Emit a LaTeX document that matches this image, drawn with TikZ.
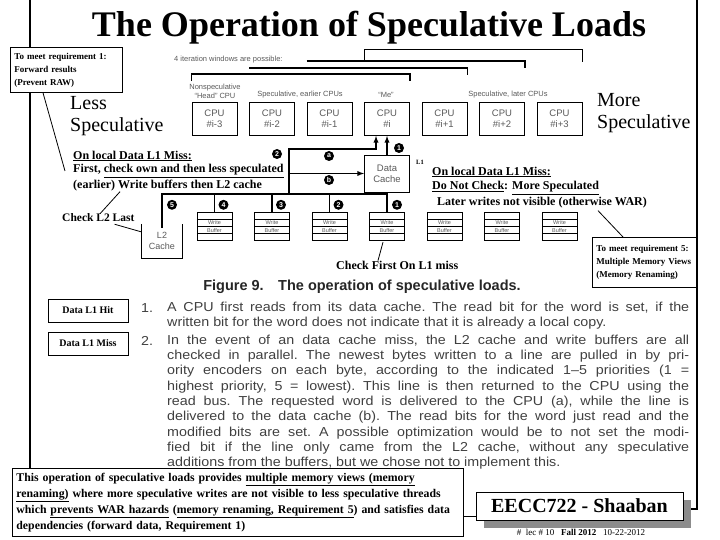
\documentclass[tikz,border=0pt]{standalone}
\usepackage{fontspec}
\setmainfont{Liberation Serif}
\setsansfont{Liberation Sans}
\newfontfamily\listfont{Liberation Sans}[FakeStretch=1.1,Ligatures=TeX]
\usetikzlibrary{positioning,calc}

\begin{document}
\begin{tikzpicture}[x=1pt,y=-1pt,
    every node/.style={inner sep=0pt},
    figtxt/.style={text=black!65,font=\sffamily\fontsize{7.5}{9}\selectfont,align=center},
    cpubox/.style={draw,thick,minimum width=45pt,minimum height=33pt,text=black!65,
      font=\sffamily\fontsize{9.5}{11}\selectfont,align=center},
    wbuf/.style={draw,minimum width=35pt,minimum height=28pt},
    numdot/.style={circle,fill=black,text=white,minimum size=10pt,
      font=\sffamily\bfseries\fontsize{7}{7}\selectfont},
    bus/.style={line width=1.3pt},
    brk/.style={line width=1.6pt},
    frame/.style={line width=1.6pt},
    note/.style={font=\bfseries\fontsize{12}{15}\selectfont,anchor=west},
    callout/.style={draw,thick,fill=white,font=\bfseries\fontsize{9}{13}\selectfont,
      align=left,inner sep=4pt,anchor=north west},
    listtxt/.style={text=black!75,font=\listfont\fontsize{13}{15}\selectfont\frenchspacing,anchor=west},
    tagbox/.style={draw,thick,minimum width=80pt,minimum height=23pt,
      font=\bfseries\fontsize{10}{12}\selectfont}
  ]
  \useasboundingbox (0,0) rectangle (720,540);

  % slide frame and title
  \draw[frame] (30,0) -- (30,468);
  \coordinate (rframe) at (697,509);
  \node[font=\bfseries\fontsize{36}{40}\selectfont] (title) at (369,28) {The Operation of Speculative Loads};

  \node[callout,text width=104pt,minimum height=45pt] (req1) at (10,47)
    {To meet requirement 1:\\Forward results\\(Prevent RAW)};
  \node[font=\fontsize{20}{22}\selectfont,align=left,anchor=north west] (less) at (70,96) {Less\\Speculative};
  \node[font=\fontsize{20}{22}\selectfont,align=left,anchor=north west] (more) at (597,93) {More\\Speculative};

  % CPUs and iteration windows
  \foreach \lab [count=\k] in {i-3,i-2,i-1,i,i+1,i+2,i+3}
    \node[cpubox] (cpu\k) at ({157+57.5*\k},119) {CPU\\\#\lab};
  \node[figtxt,anchor=west] (iterwin) at (174,60) {4 iteration windows are possible:};
  \node[figtxt] (headlbl) at (215,91) {Nonspeculative\\``Head'' CPU};
  \node[figtxt] (earlbl) at (300,95) {Speculative, earlier CPUs};
  \node[figtxt] (melbl) at (386,95) {``Me''};
  \node[figtxt] (latlbl) at (508,95) {Speculative, later CPUs};

  \coordinate (winA) at (0,74);
  \coordinate (winB) at (0,68);
  \coordinate (winC) at (0,61);
  \coordinate (winD) at (0,49);
  \draw[brk] ($(cpu1.north west)+(0,-21)$) |- (winA -| cpu4.north east) -- ++(0,7);
  \draw[brk] (winB -| cpu2.north west) -- (winB -| cpu5.north east) -- ++(0,7);
  \draw[brk] (winC -| cpu3.north west) -- (winC -| cpu6.north east) -- ++(0,7);
  \draw (winC -| cpu4.north west) |- (winD -| cpu7.north east) -- ++(0,13);

  % caches and write buffers
  \node[cpubox,minimum height=37pt] (dcache) at (387,173.5) {Data\\Cache};
  \node[font=\bfseries\fontsize{6.5}{7}\selectfont] (lone) at (420,162) {L1};
  \foreach \k in {1,...,7} {
    \node[wbuf] (wb\k) at ({157+57.5*\k},226) {};
    \draw ($(wb\k.north west)+(0,7)$) -- ($(wb\k.north east)+(0,7)$);
    \draw ($(wb\k.north west)+(0,14.5)$) -- ($(wb\k.north east)+(0,14.5)$);
    \draw ($(wb\k.north west)+(0,21)$) -- ($(wb\k.north east)+(0,21)$);
    \node[figtxt,font=\sffamily\fontsize{5.5}{7.2}\selectfont] (wbtxt\k) at ($(wb\k)+(0,0.5)$) {Write\\Buffer};
  }
  \node[figtxt,font=\sffamily\fontsize{9}{11}\selectfont,minimum width=40pt,minimum height=34pt] (ltwo) at (162,241) {L2\\Cache};
  \draw[thick] (ltwo.north west) -- (ltwo.south west) -- (ltwo.south east) -- (ltwo.north east);

  % read bus
  \coordinate (tap) at (289,194);
  \draw[bus] ([yshift=-4pt]ltwo.north) -- (ltwo.north |- tap) -- (tap -| wb4.north) -- (wb4.north);
  \foreach \k in {1,2,3}
    \draw[bus] (wb\k.north) -- (wb\k.north |- tap);
  \draw[bus] (dcache.south) -- (wb4.north);
  \draw[bus,->,>=latex] (tap) -- ++(0,-45) -| ([xshift=-11pt]cpu4.south);
  \draw[bus,->,>=latex] (tap |- dcache.west) -- (dcache.west);
  \draw[bus,->,>=latex] (dcache.north) -- (cpu4.south);

  \node[numdot] (pfive) at ([xshift=10pt,yshift=19pt]ltwo.north) {5};
  \node[numdot] (pfour) at ([xshift=9pt,yshift=7pt]wb1.north) {4};
  \node[numdot] (pthree) at ([xshift=9pt,yshift=7pt]wb2.north) {3};
  \node[numdot] (ptwo) at ([xshift=9pt,yshift=7pt]wb3.north) {2};
  \node[numdot] (pone) at ([xshift=10pt,yshift=7pt]wb4.north) {1};
  \node[numdot] (ptwotop) at (277,154) {2};
  \node[numdot] (pa) at (329,156) {a};
  \node[numdot] (pb) at (329,180) {b};
  \node[numdot] (ponetop) at (399,148) {1};

  % notes on the figure
  \node[note] (lmiss1) at (73,156) {\underline{On local Data L1 Miss:}};
  \node[note] (lmiss2) at (73,171) {First, \underline{check own and then less speculated}};
  \node[note] (lmiss3) at (73,186) {(earlier) Write buffers then L2 cache};
  \node[note] (rmiss1) at (432,172) {\underline{On local Data L1 Miss:}};
  \node[note] (rmiss2) at (432,188) {\underline{Do Not Check}: \underline{More Speculated}};
  \node[note] (rmiss3) at (437,203) {Later writes not visible (otherwise WAR)};
  \node[note,font=\bfseries\fontsize{11.5}{12}\selectfont] (chkl2) at (62,218) {Check L2 Last};
  \node[note,font=\bfseries\fontsize{12}{12}\selectfont] (chkfirst) at (336,265) {Check First On L1 miss};
  \node[callout,text width=97pt,minimum height=50pt] (req5) at (592,237)
    {To meet requirement 5:\\Multiple Memory Views\\(Memory Renaming)};

  \draw[thick] ([xshift=33pt]req1.south west) -- ([xshift=-8pt]lmiss2.west);
  \draw[thick] ([xshift=47pt]lmiss3.south west) -- ([xshift=38pt]chkl2.north west);
  \draw[thick] ([xshift=-20pt,yshift=-2pt]chkl2.south east) -- ([yshift=9pt]ltwo.west);
  \draw[thick] ([xshift=-4pt,yshift=-2pt]wb4.south) -- ([xshift=42pt]chkfirst.north west);
  \draw[thick] ([xshift=161pt,yshift=-2pt]rmiss3.south west) -- ([xshift=31pt]req5.north west);

  % caption and list
  \node[text=black!85,font=\sffamily\bfseries\fontsize{14.5}{16}\selectfont] (caption) at (362,287)
    {Figure 9.\quad The operation of speculative loads.};
  \node[tagbox] (hit) at (88,310.5) {Data L1 Hit};
  \node[tagbox] (miss) at (88,343.5) {Data L1 Miss};
  \node[listtxt] (numone) at (141,308) {1.};
  \node[listtxt] (numtwo) at (141,341) {2.};
  \node[listtxt] (itemone) at (167,308)
    {\makebox[522pt][s]{A CPU first reads from its data cache. The read bit for the word is set, if the}};
  \node[listtxt] (itemonelast) at (167,323)
    {written bit for the word does not indicate that it is already a local copy.};
  \foreach \txt [count=\n] in {
      {In the event of an data cache miss, the L2 cache and write buffers are all},
      {checked in parallel. The newest bytes written to a line are pulled in by pri-},
      {ority encoders on each byte, according to the indicated 1\textendash5 priorities (1 =},
      {highest priority, 5 = lowest). This line is then returned to the CPU using the},
      {read bus. The requested word is delivered to the CPU (a), while the line is},
      {delivered to the data cache (b). The read bits for the word just read and the},
      {modified bits are set. A possible optimization would be to not set the modi-},
      {fied bit if the line only came from the L2 cache, without any speculative}}
    \node[listtxt] (itemtwo\n) at (167,{341+15.3*(\n-1)}) {\makebox[522pt][s]{\txt}};
  \node[listtxt] (itemtwolast) at (167,463.4)
    {additions from the buffers, but we chose not to implement this.};

  % summary and footer
  \node[draw,thick,fill=white,anchor=north west,align=left,text width=443pt,
    minimum height=68pt,inner sep=4pt,font=\bfseries\fontsize{11.8}{16}\selectfont] (summary) at (12,468)
    {This operation of speculative loads provides \underline{multiple memory views (memory}\\
     \underline{renaming)} where more speculative writes are not visible to less speculative threads\\
     which \underline{prevents WAR hazards} (\underline{memory renaming, Requirement 5}) and satisfies data\\
     dependencies (forward data, Requirement 1)};
  \node[fill=black!45,minimum width=207pt,minimum height=28pt] (eeccshade) at (587,514) {};
  \node[draw,thick,fill=white,minimum width=207pt,minimum height=28pt,
    font=\bfseries\fontsize{20}{22}\selectfont] (eecc) at (579.5,506) {EECC722 - Shaaban};
  \coordinate (sumlink) at ([yshift=-14pt]summary.east);
  \draw[thick] (sumlink) -- (sumlink -| eecc.west);
  \draw[frame] (697,0) -- (rframe) -- (rframe -| eeccshade.east);
  \node[font=\fontsize{9}{10}\selectfont] (foot) at (581,532)
    {\#~~lec \# 10~~~\textbf{Fall 2012}~~~10-22-2012};
\end{tikzpicture}
\end{document}
